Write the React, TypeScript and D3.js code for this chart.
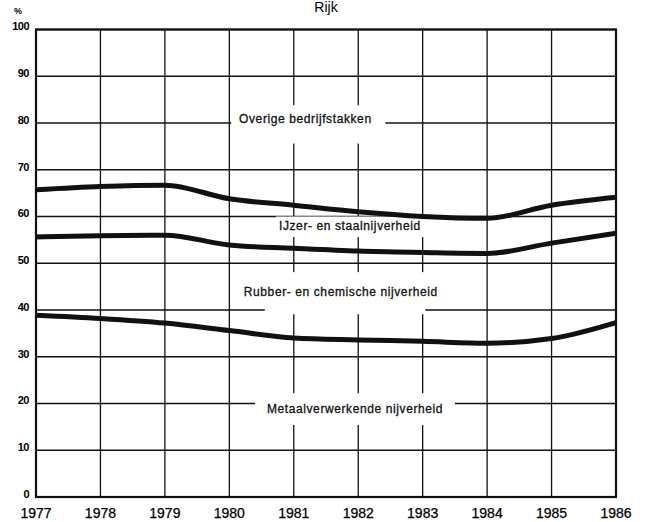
import * as d3 from 'd3';

const years = [1977, 1978, 1979, 1980, 1981, 1982, 1983, 1984, 1985, 1986];
const yTicks = [0, 10, 20, 30, 40, 50, 60, 70, 80, 90, 100];

// cumulative boundaries (%) between the sectors
const overigeGrens = [65.7, 66.4, 66.7, 63.8, 62.4, 61.0, 60.0, 59.6, 62.4, 64.1];
const ijzerGrens = [55.6, 55.9, 56.0, 53.9, 53.2, 52.6, 52.3, 52.1, 54.3, 56.4];
const metaalGrens = [38.9, 38.2, 37.2, 35.6, 34.0, 33.6, 33.3, 32.9, 33.9, 37.3];

const sectorLabels = [
  'Overige bedrijfstakken',
  'IJzer- en staalnijverheid',
  'Rubber- en chemische nijverheid',
  'Metaalverwerkende nijverheid',
];

// label anchor (year, %) and the blank area behind it (year range, % range)
const labelPos = [
  { x: 1981.18, y: 79.9, gap: [1980.03, 1982.42, 75.6, 83.8] },
  { x: 1981.87, y: 57.1, gap: [1980.72, 1983.05, 55.6, 60.0] },
  { x: 1981.73, y: 42.9, gap: [1980.55, 1983.04, 39.1, 48.1] },
  { x: 1981.95, y: 17.9, gap: [1980.4, 1983.5, 15.4, 22.2] },
];

const W = 652;
const H = 522;
const left = 36;
const right = 616;
const top = 29.5;
const bottom = 497;

export default function App() {
  const x = d3.scaleLinear().domain([1977, 1986]).range([left, right]);
  const y = d3.scaleLinear().domain([0, 100]).range([bottom, top]);

  const line = d3
    .line<number>()
    .x((_, i) => x(years[i]))
    .y(d => y(d))
    .curve(d3.curveMonotoneX);

  const font = '"Liberation Sans", Arial, sans-serif';

  return (
    <svg
      width={W}
      height={H}
      style={{ position: 'absolute', left: 0, top: 0, background: '#fff' }}
      fontFamily={font}
    >
      <text x={(left + right) / 2} y={12} textAnchor="middle" fontSize={14}>
        Rijk
      </text>
      <text x={18} y={14} textAnchor="middle" fontSize={9} fontWeight="bold">
        %
      </text>

      {/* grid */}
      <g stroke="#111" strokeWidth={1.3}>
        {yTicks.map(t => (
          <line key={'h' + t} x1={left} x2={right} y1={y(t)} y2={y(t)} />
        ))}
        {years.map(yr => (
          <line key={'v' + yr} x1={x(yr)} x2={x(yr)} y1={top} y2={bottom} />
        ))}
      </g>

      {/* blank areas behind labels */}
      {labelPos.map((p, i) => (
        <rect
          key={'g' + i}
          x={x(p.gap[0])}
          width={x(p.gap[1]) - x(p.gap[0])}
          y={y(p.gap[3])}
          height={y(p.gap[2]) - y(p.gap[3])}
          fill="#fff"
        />
      ))}

      {sectorLabels.map((s, i) => (
        <text
          key={s}
          x={x(labelPos[i].x)}
          y={y(labelPos[i].y)}
          textAnchor="middle"
          fontSize={12}
          letterSpacing={0.6}
          fill="#111"
          stroke="#111"
          strokeWidth={0.3}
        >
          {s}
        </text>
      ))}

      {/* border */}
      <rect
        x={left}
        y={top}
        width={right - left}
        height={bottom - top}
        fill="none"
        stroke="#111"
        strokeWidth={2.2}
      />

      {/* boundary lines */}
      {[overigeGrens, ijzerGrens, metaalGrens].map((s, i) => (
        <path
          key={'l' + i}
          d={line(s) || ''}
          fill="none"
          stroke="#111"
          strokeWidth={5}
          strokeLinejoin="round"
        />
      ))}

      {/* y axis labels */}
      {yTicks.map(t => (
        <text
          key={'yl' + t}
          x={29}
          y={y(t) - 2}
          textAnchor="end"
          dominantBaseline="middle"
          fontSize={11}
          fontWeight="bold"
          letterSpacing={-0.5}
        >
          {t}
        </text>
      ))}

      {/* x axis labels */}
      {years.map(yr => (
        <text
          key={'xl' + yr}
          x={x(yr)}
          y={518}
          textAnchor="middle"
          fontSize={14}
          stroke="#000"
          strokeWidth={0.25}
        >
          {yr}
        </text>
      ))}
    </svg>
  );
}
